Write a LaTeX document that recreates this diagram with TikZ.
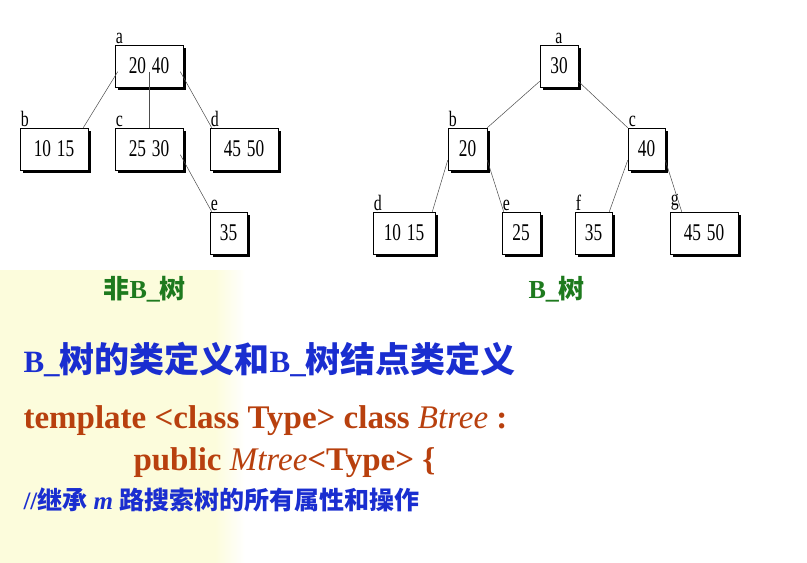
\documentclass[tikz,border=0pt]{standalone}
\usepackage{fontspec}
\setmainfont{Liberation Serif}
\newfontfamily\cjk{Noto Sans CJK SC}
\definecolor{TitleGreen}{HTML}{1E7A1E}
\definecolor{HeadBlue}{HTML}{1A2ED0}
\definecolor{CodeBrown}{HTML}{B8400E}
\definecolor{PaleYellow}{HTML}{FCFCDC}
\newcommand\narrow[1]{\scalebox{0.72}[1]{#1}}
\begin{document}
\begin{tikzpicture}[x=1pt, y=-1pt,
  keybox/.style={draw, fill=white, line width=0.6pt, inner sep=0pt,
    font=\fontsize{24}{24}\selectfont},
  keyname/.style={font=\fontsize{22}{22}\selectfont, inner sep=1pt},
  edge/.style={draw=black!70, line width=0.5pt}]

  %%%%%%%%%% Fond %%%%%%%%%%
 \useasboundingbox (0,0) rectangle (807,563);
 \fill [white] (0,0) rectangle (807,563);
 \fill [PaleYellow] (0,270) rectangle (215,563);
 \shade [left color=PaleYellow, right color=white] (215,270) rectangle (245,563);

 %%%%%%%%%% Boites %%%%%%%%%%
 \newcommand\keynode[6]{%
   \fill (#2+3,#3+3) rectangle (#4+3,#5+3);
   \node [keybox, minimum width=#4-#2, minimum height=#5-#3] (#1) at ({(#2+#4)/2},{(#3+#5)/2}) {\narrow{#6}};}

 % Non B-tree
 \keynode{la}{115}{45}{183}{87}{20\,\,40}
 \keynode{lb}{20}{128}{88}{170}{10\,\,15}
 \keynode{lc}{115}{128}{183}{170}{25\,\,30}
 \keynode{ld}{210}{128}{278}{170}{45\,\,50}
 \keynode{le}{210}{212}{247}{254}{35}

 % B-tree
 \keynode{ra}{540}{45}{578}{87}{30}
 \keynode{rb}{448}{128}{487}{170}{20}
 \keynode{rc}{628}{128}{665}{170}{40}
 \keynode{rd}{373}{212}{435}{254}{10\,\,15}
 \keynode{re}{502}{212}{540}{254}{25}
 \keynode{rf}{575}{212}{612}{254}{35}
 \keynode{rg}{670}{212}{738}{254}{45\,\,50}

 %%%%%%%%%%% Noms %%%%%%%%%%%
 \foreach \n/\t in {la/a, lb/b, lc/c, ld/d, le/e, rb/b, rc/c, rd/d, re/e, rf/f, rg/g}
   \node [keyname, above right] at (\n.north west) {\narrow{\t}};
 \node [keyname, above] at (ra.north) {\narrow{a}};

 %%%%%%%%%%% Liens %%%%%%%%%%%
 \draw [edge] ([xshift=3pt,yshift=-27pt]la.north west) -- ([xshift=-5pt]lb.north east);
 \draw [edge] ([yshift=-27pt]la.north) -- (lc.north);
 \draw [edge] ([xshift=-3pt,yshift=-27pt]la.north east) -- ([xshift=2pt]ld.north west);
 \draw [edge] ([xshift=-3pt,yshift=-27pt]lc.north east) -- ([xshift=2pt]le.north west);
 \draw [edge] ([yshift=6pt]ra.south west) -- (rb.north east);
 \draw [edge] ([yshift=6pt]ra.south east) -- (rc.north west);
 \draw [edge] ([yshift=10pt]rb.south west) -- ([xshift=-3pt]rd.north east);
 \draw [edge] ([yshift=10pt]rb.south east) -- ([xshift=2pt]re.north west);
 \draw [edge] ([yshift=10pt]rc.south west) -- ([xshift=-3pt]rf.north east);
 \draw [edge] ([yshift=10pt]rc.south east) -- ([xshift=12pt]rg.north west);

 %%%%%%%%%%% Textes %%%%%%%%%%%
 \node [TitleGreen, font=\bfseries\fontsize{26}{26}\selectfont, anchor=west] (t1) at (100,289) {{\cjk\bfseries 非}B\_{\cjk\bfseries 树}};
 \node [TitleGreen, font=\bfseries\fontsize{26}{26}\selectfont, anchor=west] (t2) at (525,289) {B\_{\cjk\bfseries 树}};
 \node [HeadBlue, font=\bfseries\fontsize{31}{31}\selectfont, anchor=west] (h) at (20,359)
   {B\_{\cjk\bfseries\fontsize{35}{35}\selectfont 树的类定义和}B\_{\cjk\bfseries\fontsize{35}{35}\selectfont 树结点类定义}};
 \node [CodeBrown, font=\bfseries\fontsize{33}{33}\selectfont, anchor=west] (c1) at (20,421)
   {template <class Type> class \textmd{\itshape Btree} :};
 \node [CodeBrown, font=\bfseries\fontsize{33}{33}\selectfont, anchor=west] (c2) at (130,463)
   {public \textmd{\itshape Mtree}<Type> \{};
 \node [HeadBlue, font=\bfseries\fontsize{25}{25}\selectfont, anchor=west] (c3) at (20,500)
   {//{\cjk\bfseries 继承} \textit{m} {\cjk\bfseries 路搜索树的所有属性和操作}};

\end{tikzpicture}
\end{document}
